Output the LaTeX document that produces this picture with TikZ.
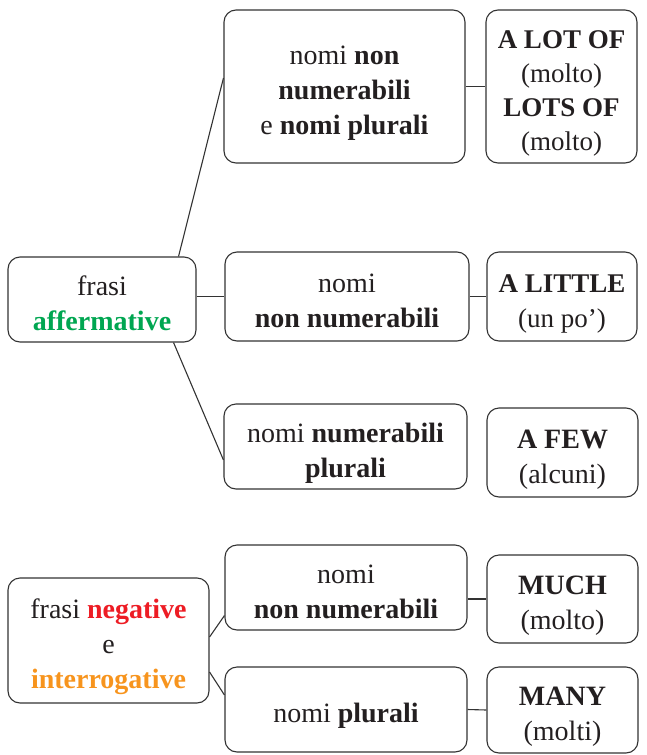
\documentclass[tikz,border=0pt]{standalone}
\usepackage{fontspec}
\setmainfont{Liberation Serif}
\usetikzlibrary{calc}
\definecolor{txt}{HTML}{231F20}
\definecolor{gr}{HTML}{00A651}
\definecolor{rd}{HTML}{ED1C24}
\definecolor{org}{HTML}{F7941D}
\definecolor{ln}{HTML}{333333}
\newcommand{\tx}[1]{\raisebox{-6pt}[\height][\depth]{\begin{tabular}{@{}c@{}}#1\end{tabular}}}
\begin{document}
\begin{tikzpicture}[x=1pt,y=-1pt,
  box/.style={draw=ln, line width=1.1pt, rounded corners=12pt,
    inner sep=0pt, text=txt, font=\fontsize{28}{35}\selectfont},
  link/.style={draw=ln, line width=1.1pt}]
\useasboundingbox (0,0) rectangle (646,755);
% affirmative group
\node[box, minimum width=188pt, minimum height=85pt] (fa) at (102,299.5) {\tx{frasi\\\textbf{\textcolor{gr}{affermative}}}};
\node[box, minimum width=241pt, minimum height=153pt] (A) at (344.5,86.5) {\tx{nomi \textbf{non}\\\textbf{numerabili}\\e \textbf{nomi plurali}}};
\node[box, minimum width=151pt, minimum height=153pt, font=\fontsize{27}{34}\selectfont] (A2) at (561.5,86.5) {\tx{\textbf{A LOT OF}\\(molto)\\\textbf{LOTS OF}\\(molto)}};
\node[box, minimum width=244pt, minimum height=89pt] (B) at (347,296.5) {\tx{nomi\\\textbf{non numerabili}}};
\node[box, minimum width=150pt, minimum height=89pt, font=\fontsize{27}{35}\selectfont] (B2) at (562,296.5) {\tx{\textbf{A LITTLE}\\(un po’)}};
\node[box, minimum width=243pt, minimum height=85pt] (C) at (345.5,446.5) {\tx{nomi \textbf{numerabili}\\\textbf{plurali}}};
\node[box, minimum width=151pt, minimum height=89pt] (C2) at (562.5,452.5) {\tx{\textbf{A FEW}\\(alcuni)}};
% negative group
\node[box, minimum width=201pt, minimum height=125pt] (fn) at (108.5,640.5) {\tx{frasi \textbf{\textcolor{rd}{negative}}\\e\\\textbf{\textcolor{org}{interrogative}}}};
\node[box, minimum width=242pt, minimum height=85pt] (D) at (346,587.5) {\tx{nomi\\\textbf{non numerabili}}};
\node[box, minimum width=151pt, minimum height=88pt] (D2) at (562.5,599) {\tx{\textbf{MUCH}\\(molto)}};
\node[box, minimum width=242pt, minimum height=85pt] (E) at (346,709.5) {\tx{nomi \textbf{plurali}}};
\node[box, minimum width=151pt, minimum height=86pt] (E2) at (562.5,710) {\tx{\textbf{MANY}\\(molti)}};
% connectors
\draw[link] ([xshift=-18pt]fa.north east) -- ([yshift=8.5pt]A.west);
\draw[link] (B.west -| fa.east) -- (B.west);
\draw[link] ([xshift=-23pt]fa.south east) -- ([yshift=-13.5pt]C.west);
\draw[link] (A.east) -- (A2.west);
\draw[link] (B.east) -- (B2.west);
\draw[link] ([yshift=3.5pt]fn.east) -- ([yshift=15pt]D.south west);
\draw[link] ([yshift=-31.5pt]fn.east) -- ([yshift=14.5pt]E.west);
\draw[link] (D2.west -| D.east) -- (D2.west);
\draw[link] (E.east) -- (E2.west);
\end{tikzpicture}
\end{document}
